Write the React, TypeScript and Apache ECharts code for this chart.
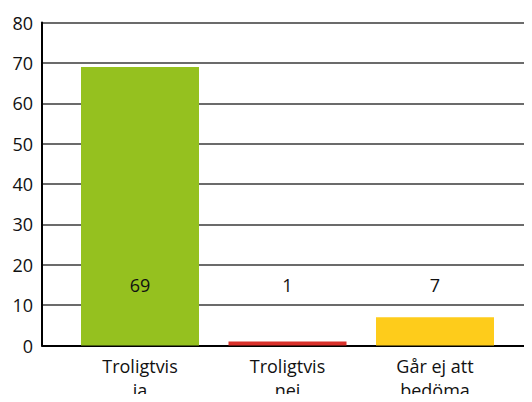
import React, { useEffect, useRef } from "react";
import * as echarts from "echarts";

const categories = ["Troligtvis\nja", "Troligtvis\nnej", "Går ej att\nbedöma"];
const values = [69, 1, 7];
const colors = ["#95c11f", "#d9312b", "#fecc1b"];
const yTicks = { min: 0, max: 80, interval: 10 };

const FONT = "'Open Sans', sans-serif";

export default function App() {
  const ref = useRef<HTMLDivElement>(null);
  useEffect(() => {
    if (!ref.current) return;
    const chart = echarts.init(ref.current, null, { renderer: "svg" });
    const top = 22.5;
    const bottom = 56.5;
    chart.setOption({
      animation: false,
      backgroundColor: "#ffffff",
      grid: [
        { left: 42, right: 0, top, bottom, outerBoundsMode: "none", containLabel: false },
        { left: 66.25, width: 442.5, top, bottom, outerBoundsMode: "none", containLabel: false },
      ],
      xAxis: [
        {
          gridIndex: 0,
          type: "category",
          data: categories,
          axisLine: { show: true, lineStyle: { color: "#000", width: 2 } },
          axisTick: { show: false },
          axisLabel: { show: false },
          splitLine: { show: false },
        },
        {
          gridIndex: 1,
          type: "category",
          data: categories,
          axisLine: { show: false },
          axisTick: { show: false },
          axisLabel: {
            color: "#111",
            fontFamily: FONT,
            fontSize: 18,
            lineHeight: 24,
            margin: 8,
            interval: 0,
          },
        },
      ],
      yAxis: [
        {
          gridIndex: 0,
          type: "value",
          min: yTicks.min,
          max: yTicks.max,
          interval: yTicks.interval,
          axisLine: { show: true, lineStyle: { color: "#000", width: 2 } },
          axisTick: { show: false },
          axisLabel: { color: "#111", fontFamily: FONT, fontSize: 18, margin: 9 },
          splitLine: { show: true, lineStyle: { color: "#3a3a3a", width: 1.5 } },
        },
        {
          gridIndex: 1,
          type: "value",
          min: yTicks.min,
          max: yTicks.max,
          interval: yTicks.interval,
          show: false,
          splitLine: { show: false },
        },
      ],
      series: [
        {
          type: "bar",
          xAxisIndex: 1,
          yAxisIndex: 1,
          barWidth: 118,
          data: values.map((v, i) => ({
            value: v,
            itemStyle: { color: colors[i] },
          })),
          label: {
            show: true,
            position: "insideBottom",
            distance: 52,
            color: "#111",
            fontFamily: FONT,
            fontSize: 18,
          },
        },
      ],
    });
    return () => chart.dispose();
  }, []);
  return (
    <div style={{ margin: -8 }}>
      <div ref={ref} style={{ width: 532, height: 402 }} />
    </div>
  );
}
